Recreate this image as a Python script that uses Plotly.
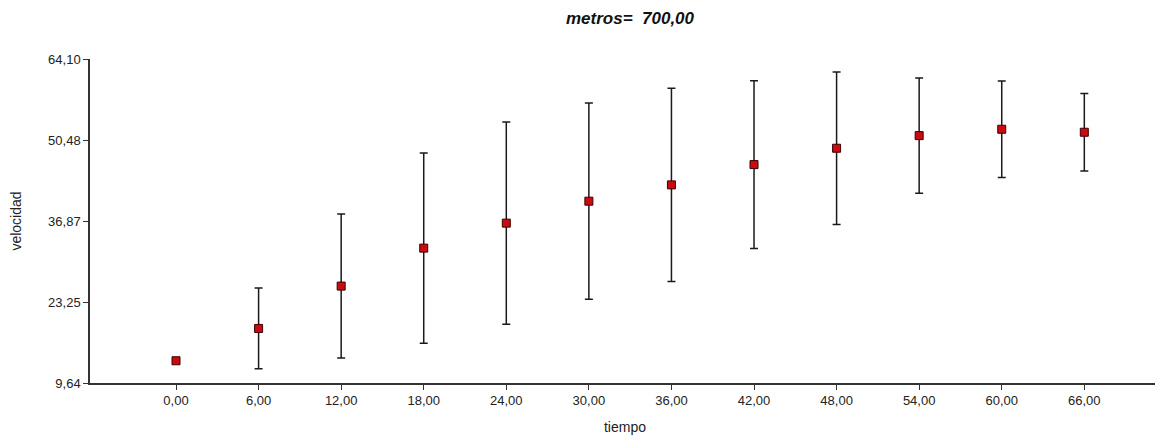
import plotly.graph_objects as go

tiempo = [0, 6, 12, 18, 24, 30, 36, 42, 48, 54, 60, 66]
velocidad = [13.38, 18.81, 25.93, 32.31, 36.51, 40.20, 42.94, 46.35, 49.10, 51.22, 52.29, 51.79]
error = [0.0, 6.78, 12.1, 16.0, 17.0, 16.5, 16.25, 14.1, 12.8, 9.7, 8.1, 6.5]

x_tickvals = tiempo
x_ticktext = [("%.2f" % v).replace(".", ",") for v in tiempo]
y_tickvals = [9.64, 23.25, 36.87, 50.48, 64.10]
y_ticktext = ["9,64", "23,25", "36,87", "50,48", "64,10"]

W, H = 1163, 441
# page body has an 8px margin, compensate so the plot lands where the reference has it
ml, mr, mt, mb = 82, 11, 51, 66

fig = go.Figure()
fig.add_trace(go.Scatter(
    x=tiempo, y=velocidad, mode="markers",
    marker=dict(symbol="square", size=8, color="#cc0a12",
                line=dict(color="#3a0000", width=1)),
    error_y=dict(type="data", array=error, symmetric=True, visible=True,
                 color="#1a1a1a", thickness=1.5, width=4),
    showlegend=False,
))

font = "Liberation Sans, Arial, sans-serif"
fig.update_layout(
    width=W, height=H,
    margin=dict(l=ml, r=mr, t=mt, b=mb, pad=0, autoexpand=False),
    paper_bgcolor="white", plot_bgcolor="white",
    font=dict(family=font, size=13, color="#222222"),
    title=dict(text="<b><i>metros=\u00a0 700,00</i></b>",
               x=622 / W, xanchor="center", xref="container",
               y=1 - 10 / H, yanchor="middle", yref="container",
               font=dict(family=font, size=17, color="#111111")),
    xaxis=dict(range=[-6.25, 71.5], tickvals=x_tickvals, ticktext=x_ticktext,
               showgrid=False, zeroline=False, showline=True, linecolor="#333333",
               linewidth=1.5, ticks="outside", ticklen=5, tickcolor="#333333",
               automargin=False,
               title=dict(text="tiempo", standoff=15, font=dict(size=14))),
    yaxis=dict(range=[9.64, 64.10], tickvals=y_tickvals, ticktext=y_ticktext,
               showgrid=False, zeroline=False, showline=True, linecolor="#333333",
               linewidth=1.5, ticks="outside", ticklen=5, tickcolor="#333333",
               automargin=False,
               title=dict(text="velocidad", standoff=26, font=dict(size=14))),
)

fig.write_html("out.html")
